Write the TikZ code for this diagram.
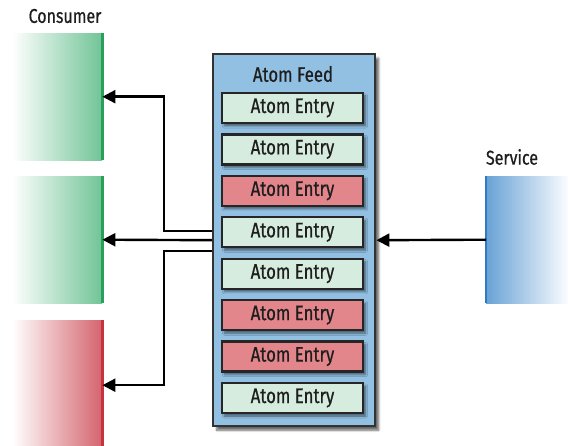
\documentclass[tikz,border=0pt]{standalone}
\usepackage{fontspec}
\setmainfont{Fira Sans}[FakeStretch=0.8,FakeBold=0.6]
\usetikzlibrary{arrows.meta,shadows.blur}
\definecolor{entrygreen}{RGB}{214,236,222}
\definecolor{entryred}{RGB}{226,134,140}
\definecolor{feedblue}{RGB}{146,192,226}
\definecolor{congreen}{RGB}{112,196,150}
\definecolor{congreenedge}{RGB}{40,160,90}
\definecolor{conred}{RGB}{212,100,110}
\definecolor{conrededge}{RGB}{200,50,60}
\definecolor{svcblue}{RGB}{104,162,214}
\definecolor{svcedge}{RGB}{50,120,195}
\definecolor{txt}{RGB}{30,30,30}
\begin{document}
\begin{tikzpicture}[x=1pt,y=-1pt,
  lbl/.style={font=\fontsize{20}{22}\selectfont, text=txt},
  entry/.style={draw=black!85, line width=2.4pt, minimum width=141pt, minimum height=30pt,
    inner sep=0pt, font=\fontsize{21}{22}\selectfont, text=txt,
    blur shadow={shadow xshift=2.5pt, shadow yshift=-3pt, shadow blur steps=5, shadow opacity=50}},
  feedbox/.style={draw=black!80, line width=2.4pt, fill=feedblue, minimum width=162pt,
    minimum height=372pt, inner sep=0pt,
    blur shadow={shadow xshift=3.5pt, shadow yshift=-4pt, shadow blur steps=6, shadow opacity=60}},
  conbox/.style={minimum width=90pt, minimum height=127pt, inner sep=0pt, left color=white},
  arr/.style={line width=2.4pt, -{Triangle[length=13pt,width=13pt]}}
]
\useasboundingbox (0,0) rectangle (568,446);

% consumers
\node[lbl] (conlbl) at (65,16) {Consumer};
\node[conbox, right color=congreen, anchor=north west] (c1) at (12,33) {};
\node[conbox, right color=congreen, anchor=north west] (c2) at (12,176) {};
\node[conbox, right color=conred, anchor=north west, minimum height=130pt] (c3) at (12,320) {};
\draw[congreenedge, line width=2.5pt] (c1.north east) -- (c1.south east);
\draw[congreenedge, line width=2.5pt] (c2.north east) -- (c2.south east);
\draw[conrededge, line width=2.5pt] (c3.north east) -- (c3.south east);

% service
\node[lbl] (svclbl) at (512,157) {Service};
\node[minimum width=84pt, minimum height=127pt, inner sep=0pt, left color=svcblue, right color=white, anchor=north west] (svc) at (486,176) {};
\draw[svcedge, line width=2.5pt] (svc.north west) -- (svc.south west);

% feed
\node[feedbox, anchor=north west] (feed) at (212,53) {};
\node[lbl, font=\fontsize{21}{22}\selectfont] (feedlbl) at (293,74) {Atom Feed};
\foreach \i/\c in {1/entrygreen,2/entrygreen,3/entryred,4/entrygreen,5/entrygreen,6/entryred,7/entryred,8/entrygreen}{
  \node[entry, fill=\c] (e\i) at (292.5,{108+(\i-1)*41.43}) {Atom Entry};
}

% connectors
\draw[arr] ([yshift=9pt]feed.west) -- ++(-48,0) |- (c1.east);
\draw[arr] (feed.west) -- (c2.east);
\draw[arr] ([yshift=-11pt]feed.west) -- ++(-48,0) |- (c3.east);
\draw[arr] (svc.west) -- (feed.east);
\end{tikzpicture}
\end{document}
